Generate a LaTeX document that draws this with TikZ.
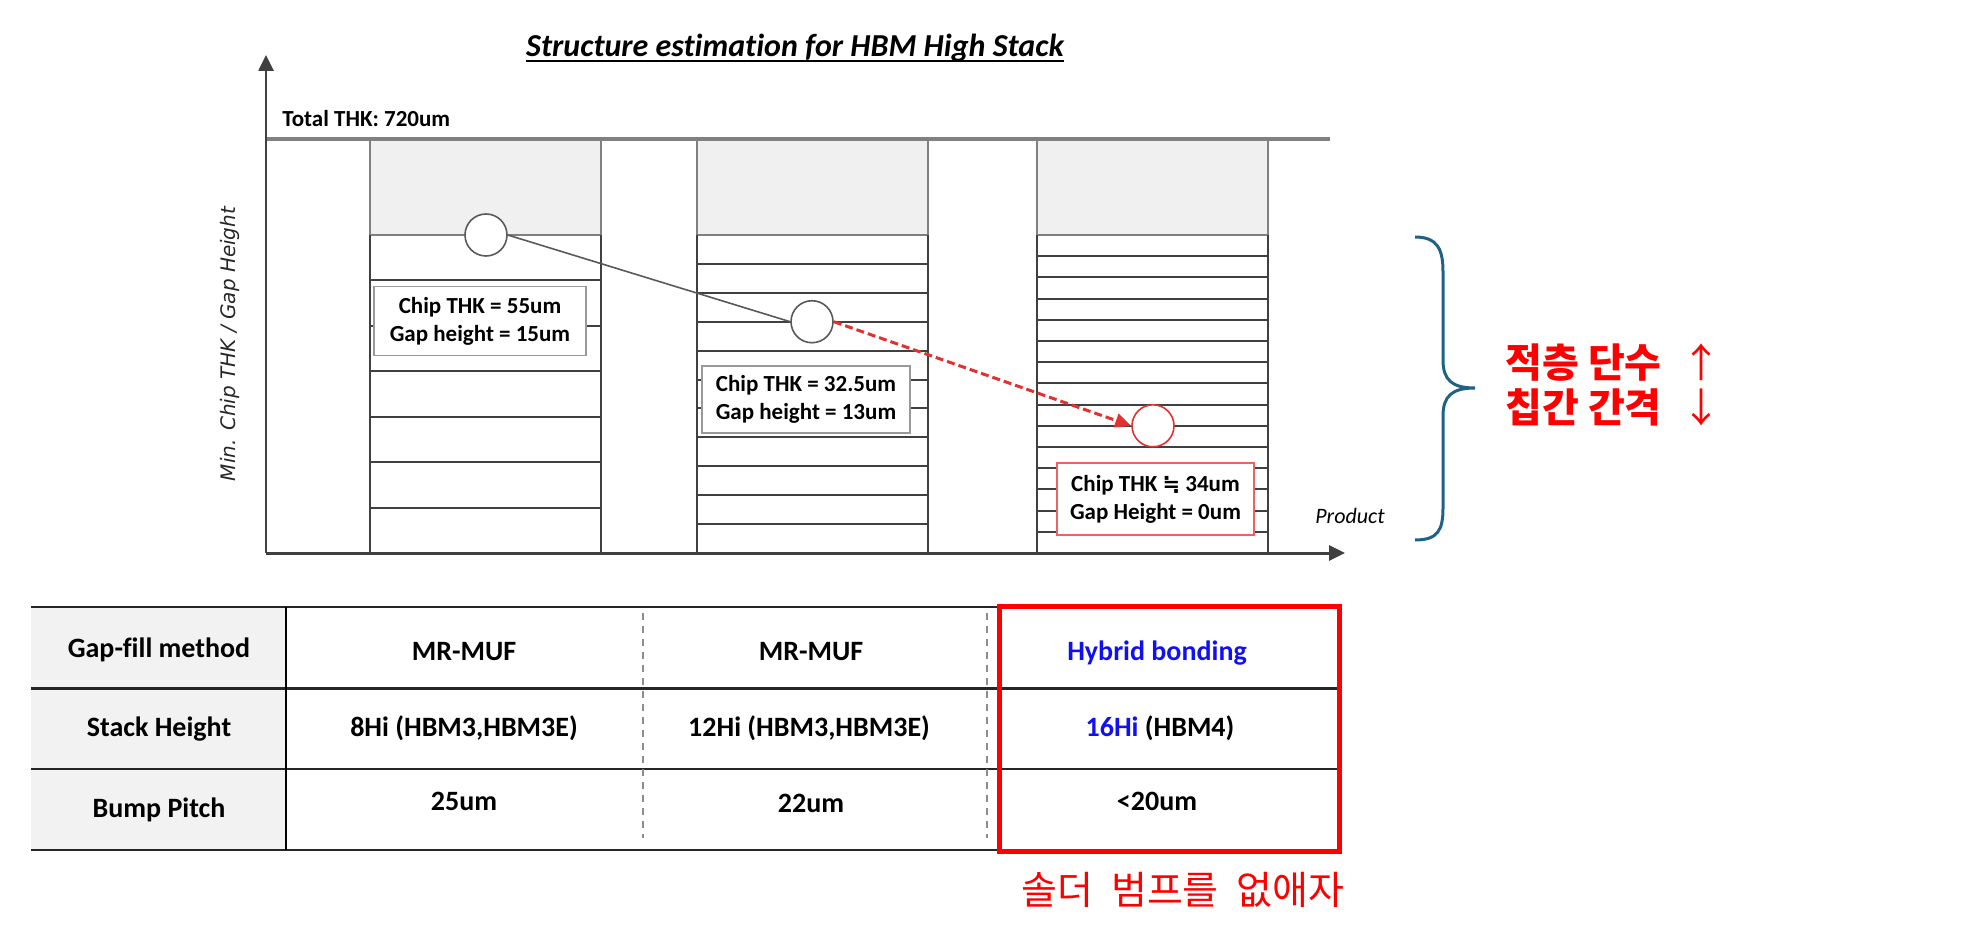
\documentclass[tikz,border=0pt]{standalone}
\usepackage{fontspec}
\setmainfont{Carlito}[Ligatures=NoCommon]
\newfontfamily\kor{Noto Sans CJK KR}
\newfontfamily\dejavu{DejaVu Sans}
\usetikzlibrary{arrows.meta}
\definecolor{axisgray}{HTML}{404040}
\definecolor{chipfill}{HTML}{F0F0F0}
\definecolor{bracecol}{HTML}{1F6284}
\definecolor{hbblue}{HTML}{1010F0}
\definecolor{arrred}{HTML}{E53030}
\definecolor{boxred}{HTML}{F06060}

\begin{document}
\begin{tikzpicture}[x=0.5pt,y=-0.5pt,
    axis/.style={draw=axisgray,line width=1.3pt,-{Triangle[length=8pt,width=7.5pt]}},
    chipline/.style={draw=black!75,line width=1pt},
    topchip/.style={fill=chipfill,draw=black!50,line width=1.2pt},
    bump/.style={circle,draw=black!65,fill=white,line width=0.8pt,minimum size=21pt,inner sep=0pt},
    infobox/.style={draw=black!40,fill=white,line width=0.7pt,align=center,inner sep=0pt,
      font=\fontsize{11.5}{14}\selectfont\bfseries},
    cell/.style={font=\fontsize{14}{16}\selectfont\bfseries},
    rule/.style={draw=black!85,line width=1.3pt}]
  \useasboundingbox (0,0) rectangle (1970,935);

  % title
  \node[font=\fontsize{16}{19}\selectfont\bfseries\itshape,inner sep=0pt,anchor=base] (title) at (795,57) {Structure estimation for HBM High Stack};
  \draw[line width=0.9pt] ([yshift=-2pt]title.base west) -- ([yshift=-2pt]title.base east);

  % stacks: 8Hi, 12Hi, 16Hi
  \foreach \cx/\n in {370/7,697/11,1037/15}{
    \filldraw[topchip] (\cx,139) rectangle ++(231,96);
    \draw[chipline] (\cx,235) -- (\cx,553) (\cx+231,235) -- (\cx+231,553);
    \pgfmathtruncatemacro\m{\n-1}
    \foreach \k in {1,...,\m}
      \draw[chipline] (\cx,{235+\k*318/\n}) -- ++(231,0);
  }

  % total thickness line and axes
  \draw[draw=black!50,line width=1.7pt] (266,139) -- (1330,139);
  \node[anchor=base west,inner sep=0pt,font=\fontsize{11.5}{14}\selectfont\bfseries] (tot) at (282,127) {Total THK: 720um};
  \coordinate (O) at (266,553);
  \draw[axis] (O) -- (266,55);
  \draw[axis,line width=1.5pt] (O) -- (1345,553);
  \node[rotate=90,font=\dejavu\itshape\fontsize{10}{12}\selectfont,text=black!85] (ylab) at (230,344) {Min. Chip THK / Gap Height};
  \node[font=\fontsize{11}{13}\selectfont\itshape] (prod) at (1350,516) {Product};

  % bumps and trend
  \node[bump] (b8) at (486,235) {};
  \node[bump] (b12) at (812,{235+3*318/11}) {};
  \node[bump,draw=arrred] (b16) at (1153,{235+9*318/15}) {};
  \draw[draw=black!65,line width=0.8pt] (b8.east) -- (b12.west);
  \draw[draw=arrred,line width=1.5pt,dash pattern=on 4pt off 2pt,-{Triangle[length=8pt,width=7pt]}] (b12.east) -- (b16.west);

  \node[infobox,minimum width=106pt,minimum height=34.5pt] (box8) at (480,321) {Chip THK = 55um\\Gap height = 15um};
  \node[infobox,minimum width=104pt,minimum height=33.5pt] (box12) at (806,399.5) {Chip THK = 32.5um\\Gap height = 13um};
  \node[infobox,draw=boxred,minimum width=98.5pt,minimum height=36pt] (box16) at (1155.5,499) {Chip THK {\dejavu\fontsize{10.5}{14}\selectfont ≒} 34um\\Gap Height = 0um};

  % brace
  \draw[draw=bracecol,line width=1.5pt] (1415,237) .. controls (1438,237) and (1443,250) .. (1443,272) -- (1443,360)
    .. controls (1443,380) and (1452,388) .. (1475,388) .. controls (1452,388) and (1443,396) .. (1443,416)
    -- (1443,508) .. controls (1443,530) and (1438,540) .. (1415,540);
  \node[anchor=west,align=left,text=red,inner sep=0pt,font=\kor\fontsize{20}{22.5}\selectfont] (trend) at (1505,385) {\textbf{적층 단수}\hspace{10pt}↑\\\textbf{칩간 간격}\hspace{10pt}↓};

  % table
  \fill[black!5] (31,607) rectangle (286,850);
  \foreach \ry in {607,688.5,769,850}
    \draw[rule] (31,\ry) -- (1339,\ry);
  \draw[black,line width=1pt] (286,607) -- (286,850);
  \foreach \dx in {643,987}
    \draw[draw=black!45,line width=0.8pt,dash pattern=on 3.5pt off 3pt] (\dx,613) -- (\dx,838);
  \node[cell] (gf) at (159,650) {Gap-fill method};
  \node[cell] (sh) at (159,729) {Stack Height};
  \node[cell] (bp) at (159,810) {Bump Pitch};
  \node[cell] (gfa) at (464,652) {MR-MUF};
  \node[cell] (gfb) at (811,652) {MR-MUF};
  \node[cell,text=hbblue] (gfc) at (1157,653) {Hybrid bonding};
  \node[cell] (sha) at (464,728) {8Hi (HBM3,HBM3E)};
  \node[cell] (shb) at (809,728) {12Hi (HBM3,HBM3E)};
  \node[cell] (shc) at (1160,728) {{\color{hbblue}16Hi} (HBM4)};
  \node[cell] (bpa) at (464,801) {25um};
  \node[cell] (bpb) at (811,803) {22um};
  \node[cell] (bpc) at (1157,801) {<20um};
  \draw[red,line width=2.5pt] (999,606) rectangle (1339,851);
  \node[text=red,font=\kor\fontsize{19.5}{22}\selectfont,inner sep=0pt] (note) at (1183,890) {\spaceskip=9pt 솔더 범프를 없애자};
\end{tikzpicture}
\end{document}
